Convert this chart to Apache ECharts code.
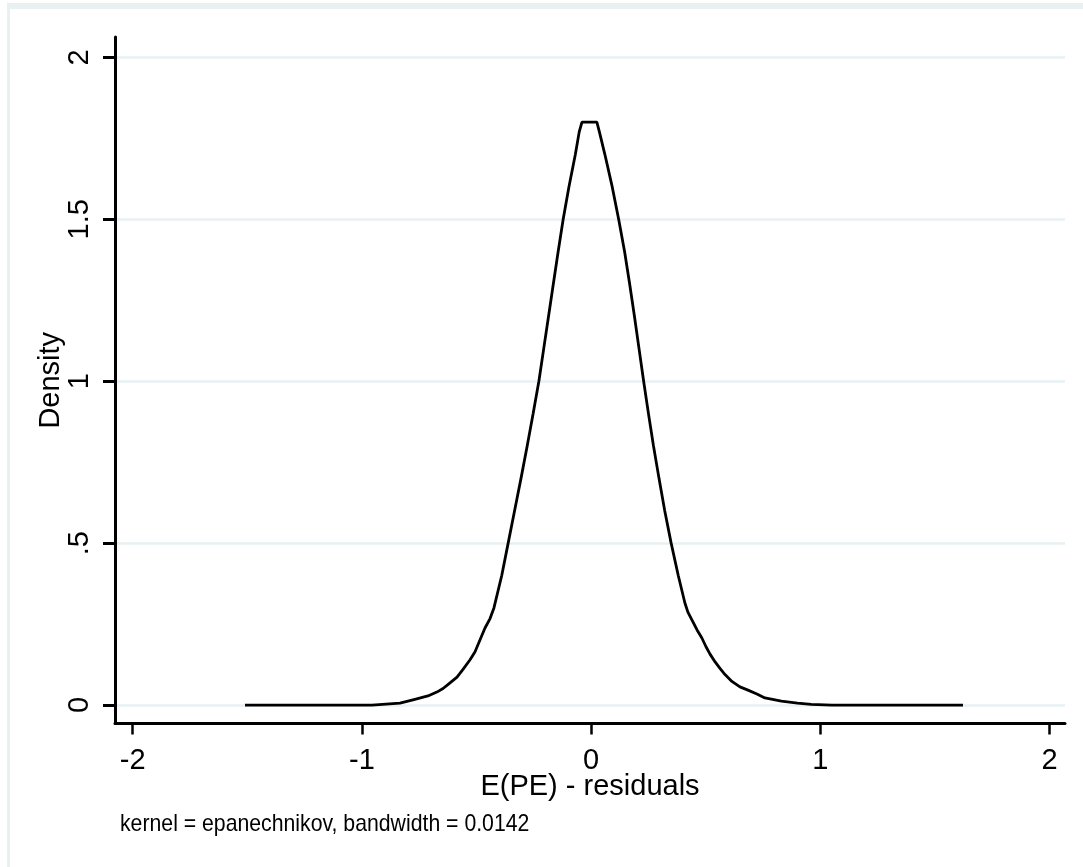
<!DOCTYPE html>
<html>
<head>
<meta charset="utf-8">
<script src="https://cdn.jsdelivr.net/npm/echarts@6/dist/echarts.min.js"></script>
<style>
html,body{margin:0;padding:0;background:#fff;}
#chart{width:1083px;height:867px;}
</style>
</head>
<body>
<div id="chart"></div>
<script>
// ---- data ----
const X_TICKS = [-2, -1, 0, 1, 2];
const X_TICK_LABELS = ['-2', '-1', '0', '1', '2'];
const Y_TICKS = [0, 0.5, 1, 1.5, 2];
const Y_TICK_LABELS = ['0', '.5', '1', '1.5', '2'];
const X_RANGE = [-2.077, 2.067];
const Y_RANGE = [-0.057, 2.063];

// kernel density estimate: residual values and density
const RESID = [
 -1.510, -0.956, -0.834, -0.773, -0.712, -0.673, -0.646, -0.625, -0.585, -0.559,
 -0.529, -0.507, -0.485, -0.463, -0.441, -0.424,
 -0.390, -0.362, -0.334, -0.306, -0.279, -0.253, -0.228, -0.207, -0.186, -0.165,
 -0.144, -0.122, -0.097, -0.069, -0.052, -0.040,
  0.025, 0.036, 0.060, 0.092, 0.120, 0.146, 0.168, 0.189, 0.209, 0.229,
  0.250, 0.272, 0.296, 0.321, 0.349, 0.380, 0.409,
  0.422, 0.440, 0.462, 0.483, 0.501, 0.518, 0.540, 0.562, 0.584, 0.614,
  0.649, 0.684, 0.723, 0.758, 0.830, 0.900, 0.960, 1.050, 1.622
];
const DENSITY = [
  0.000, 0.000, 0.006, 0.017, 0.028, 0.040, 0.051, 0.063, 0.086, 0.110,
  0.139, 0.164, 0.201, 0.238, 0.267, 0.300,
  0.400, 0.500, 0.600, 0.700, 0.800, 0.900, 1.000, 1.100, 1.200, 1.300,
  1.400, 1.500, 1.600, 1.700, 1.770, 1.800,
  1.800, 1.770, 1.700, 1.600, 1.500, 1.400, 1.300, 1.200, 1.100, 1.000,
  0.900, 0.800, 0.700, 0.600, 0.500, 0.400, 0.315,
  0.287, 0.262, 0.232, 0.207, 0.180, 0.158, 0.134, 0.113, 0.094, 0.073,
  0.056, 0.046, 0.034, 0.022, 0.012, 0.006, 0.002, 0.000, 0.000
];
const X_TITLE = 'E(PE) - residuals';
const Y_TITLE = 'Density';
const NOTE = 'kernel = epanechnikov, bandwidth = 0.0142';

const FONT = 'Liberation Sans, Arial, sans-serif';
const GRID_COLOR = '#e8f0f2';

const chart = echarts.init(document.getElementById('chart'), null, {renderer: 'canvas'});
const points = RESID.map((x, i) => [x, DENSITY[i]]);

chart.setOption({
  animation: false,
  backgroundColor: '#ffffff',
  grid: {left: 115, right: 18, top: 37, bottom: 143.5, containLabel: false},
  xAxis: {
    type: 'value',
    min: X_RANGE[0], max: X_RANGE[1],
    axisLine: {show: true, onZero: false, lineStyle: {color: '#000', width: 3}},
    axisTick: {show: true, customValues: X_TICKS, length: 11, lineStyle: {color: '#000', width: 2.5}},
    axisLabel: {
      show: true, customValues: X_TICKS, margin: 23,
      formatter: v => X_TICK_LABELS[X_TICKS.indexOf(v)] ?? '',
      color: '#000', fontFamily: FONT, fontSize: 29
    },
    splitLine: {show: false},
    name: X_TITLE, nameLocation: 'middle', nameGap: 49, nameMoveOverlap: false,
    nameTextStyle: {color: '#000', fontFamily: FONT, fontSize: 29}
  },
  yAxis: {
    type: 'value',
    min: Y_RANGE[0], max: Y_RANGE[1],
    axisLine: {show: true, onZero: false, lineStyle: {color: '#000', width: 3}},
    axisTick: {show: true, customValues: Y_TICKS, length: 12, lineStyle: {color: '#000', width: 3}},
    axisLabel: {
      show: true, customValues: Y_TICKS, rotate: 90, margin: 21,
      formatter: v => Y_TICK_LABELS[Y_TICKS.indexOf(v)] ?? '',
      color: '#000', fontFamily: FONT, fontSize: 29
    },
    splitLine: {show: true, lineStyle: {color: GRID_COLOR, width: 2.5}},
    name: Y_TITLE, nameLocation: 'middle', nameGap: 50, nameMoveOverlap: false,
    nameTextStyle: {color: '#000', fontFamily: FONT, fontSize: 29}
  },
  series: [{
    type: 'line',
    data: points,
    showSymbol: false,
    smooth: false,
    lineStyle: {color: '#000', width: 2.8},
    z: 3
  }],
  graphic: [
    {type: 'rect', shape: {x: 7, y: 3, width: 1076, height: 6}, style: {fill: GRID_COLOR}, silent: true},
    {type: 'rect', shape: {x: 7, y: 3, width: 3, height: 864}, style: {fill: GRID_COLOR}, silent: true},
    {type: 'text', x: 120, y: 812, scaleX: 0.885,
     style: {text: NOTE, font: '24px Liberation Sans, Arial, sans-serif', fill: '#000', textVerticalAlign: 'top'}}
  ]
});
</script>
</body>
</html>
